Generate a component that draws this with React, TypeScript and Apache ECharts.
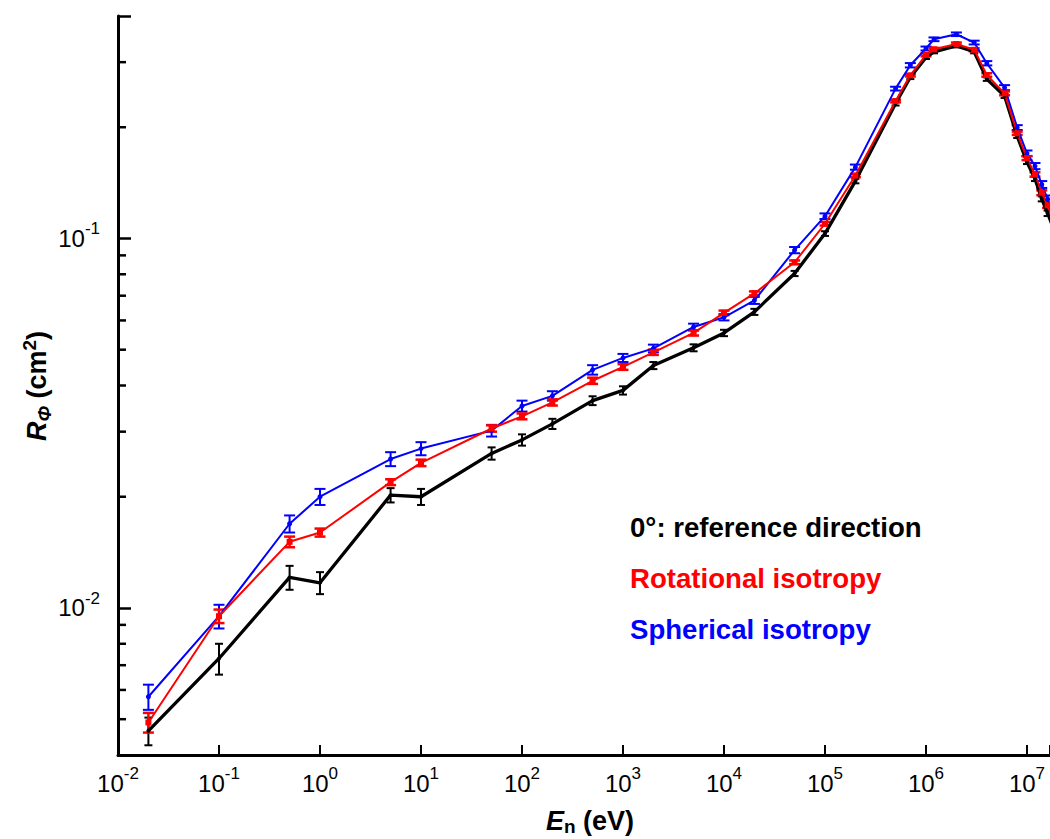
import React, { useEffect, useRef } from "react";
import * as echarts from "echarts";

// Neutron energies (eV)
const energies = [
  0.02, 0.1, 0.5, 1, 5, 10, 50, 100, 200, 500, 1000, 2000, 5000, 1e4, 2e4, 5e4,
  1e5, 2e5, 5e5, 7e5, 1e6, 1.2e6, 2e6, 3e6, 4e6, 6e6, 8e6, 1e7, 1.2e7, 1.4e7, 1.6e7, 2e7,
];

// 0°: reference direction
const refValues = [
  0.00465, 0.0073, 0.0121, 0.0117, 0.0202, 0.02, 0.0262, 0.0285, 0.0315, 0.0364, 0.0388, 0.0453, 0.0506, 0.0555, 0.0633, 0.0804,
  0.1031, 0.143, 0.232, 0.273, 0.309, 0.32, 0.332, 0.32, 0.27, 0.243, 0.189, 0.161, 0.145, 0.128, 0.117, 0.1,
];
const refErrors = [
  0.0004, 0.0007, 0.0009, 0.0008, 0.0009, 0.001, 0.001, 0.001, 0.001, 0.001, 0.001, 0.001, 0.0011, 0.0011, 0.0012, 0.0013,
  0.0015, 0.002, 0.003, 0.003, 0.003, 0.003, 0.003, 0.003, 0.003, 0.003, 0.002, 0.002, 0.002, 0.002, 0.002, 0.002,
];

// Rotational isotropy
const rotValues = [
  0.0049, 0.0095, 0.0151, 0.016, 0.0219, 0.0247, 0.0306, 0.033, 0.036, 0.0412, 0.0449, 0.0492, 0.0555, 0.0629, 0.071, 0.0862,
  0.1096, 0.148, 0.2355, 0.2764, 0.314, 0.325, 0.336, 0.324, 0.277, 0.247, 0.1926, 0.165, 0.149, 0.133, 0.123, 0.105,
];
const rotErrors = [
  0.0003, 0.0004, 0.0005, 0.0004, 0.0004, 0.0005, 0.0006, 0.0006, 0.0007, 0.0008, 0.0008, 0.0008, 0.0009, 0.0009, 0.0009, 0.001,
  0.0012, 0.0015, 0.002, 0.002, 0.003, 0.003, 0.003, 0.003, 0.003, 0.003, 0.002, 0.002, 0.002, 0.002, 0.002, 0.002,
];

// Spherical isotropy
const sphValues = [
  0.00575, 0.0095, 0.0169, 0.02, 0.0253, 0.027, 0.0302, 0.0352, 0.0375, 0.0441, 0.0475, 0.0504, 0.0576, 0.0612, 0.068, 0.093,
  0.1149, 0.156, 0.2544, 0.2943, 0.3267, 0.346, 0.357, 0.339, 0.298, 0.256, 0.1996, 0.17, 0.157, 0.14, 0.1277, 0.11,
];
const sphErrors = [
  0.00045, 0.0007, 0.0009, 0.001, 0.0011, 0.0011, 0.0011, 0.0012, 0.0011, 0.0013, 0.0012, 0.0012, 0.0012, 0.0012, 0.0015, 0.0018,
  0.002, 0.0025, 0.003, 0.004, 0.004, 0.004, 0.004, 0.004, 0.004, 0.004, 0.003, 0.003, 0.003, 0.003, 0.003, 0.003,
];

// Axis ranges and minor tick values on the y axis
const xMin = 0.01;
const xMax = 1.69e7;
const yMin = 0.004;
const yMax = 0.4;
const yMinorTicks = [0.005, 0.006, 0.007, 0.008, 0.009, 0.02, 0.03, 0.04, 0.05, 0.06, 0.07, 0.08, 0.09, 0.2, 0.3];

const legendTexts = ["0°: reference direction", "Rotational isotropy", "Spherical isotropy"];

const FONT = "'Liberation Sans', Arial, Helvetica, sans-serif";
const BLACK = "#000000";
const RED = "#ff0000";
const BLUE = "#0000ff";

function powLabel(v: number): string {
  const l = Math.log10(v);
  const r = Math.round(l);
  if (Math.abs(l - r) > 1e-6) return "";
  return "{b|10}{s|" + r + "}";
}

const labelRich = {
  b: { fontSize: 24, fontFamily: FONT, color: "#000", lineHeight: 36, verticalAlign: "middle" },
  s: { fontSize: 17, fontFamily: FONT, color: "#000", lineHeight: 17, verticalAlign: "top" },
};

function errData(vals: number[], errs: number[]) {
  return energies.map((e, i) => [e, vals[i] - errs[i], vals[i] + errs[i]]);
}

function errSeries(name: string, vals: number[], errs: number[], color: string, capW: number, lw: number) {
  return {
    name: name + "-err",
    type: "custom",
    clip: true,
    silent: true,
    data: errData(vals, errs),
    encode: { x: 0, y: [1, 2] },
    renderItem: (params: any, api: any) => {
      const x = api.value(0);
      const lo = api.value(1);
      const hi = api.value(2);
      const p1 = api.coord([x, lo]);
      const p2 = api.coord([x, hi]);
      const w = capW / 2;
      const style = { stroke: color, lineWidth: lw };
      return {
        type: "group",
        children: [
          { type: "line", shape: { x1: p1[0], y1: p1[1], x2: p2[0], y2: p2[1] }, style },
          { type: "line", shape: { x1: p1[0] - w, y1: p1[1], x2: p1[0] + w, y2: p1[1] }, style },
          { type: "line", shape: { x1: p2[0] - w, y1: p2[1], x2: p2[0] + w, y2: p2[1] }, style },
        ],
      };
    },
  };
}

function lineSeries(name: string, vals: number[], color: string, width: number, symbol: string, size: number) {
  return {
    name,
    type: "line",
    data: energies.map((e, i) => [e, vals[i]]),
    symbol,
    symbolSize: size,
    showSymbol: true,
    clip: true,
    lineStyle: { color, width },
    itemStyle: { color },
    silent: true,
  };
}

export default function App() {
  const ref = useRef<HTMLDivElement>(null);

  useEffect(() => {
    if (!ref.current) return;
    const chart = echarts.init(ref.current, null, { renderer: "svg" });

    const legendStyle = (text: string, fill: string) => ({
      text,
      fill,
      font: "bold 27.6px " + FONT,
      textAlign: "left",
      textVerticalAlign: "middle",
      align: "left",
      verticalAlign: "middle",
    });

    const option: any = {
      animation: false,
      backgroundColor: "#ffffff",
      textStyle: { fontFamily: FONT },
      grid: { left: 118, right: 0, top: 16, bottom: 84, containLabel: false, outerBoundsMode: "none" },
      xAxis: {
        type: "log",
        logBase: 10,
        min: xMin,
        max: xMax,
        axisLine: { show: true, onZero: false, lineStyle: { color: BLACK, width: 3 } },
        axisTick: { show: true, inside: true, length: 10, lineStyle: { color: BLACK, width: 2 } },
        axisLabel: {
          show: true,
          margin: 10,
          formatter: (v: number) => powLabel(v),
          rich: labelRich,
          showMinLabel: true,
          showMaxLabel: true,
        },
        splitLine: { show: false },
        minorTick: { show: false },
      },
      yAxis: {
        type: "log",
        logBase: 10,
        min: yMin,
        max: yMax,
        axisLine: { show: true, onZero: false, lineStyle: { color: BLACK, width: 3 } },
        axisTick: { show: true, inside: true, length: 13, lineStyle: { color: BLACK, width: 2.5 } },
        axisLabel: {
          show: true,
          margin: 18,
          formatter: (v: number) => powLabel(v),
          rich: labelRich,
        },
        splitLine: { show: false },
        minorTick: { show: false },
      },
      series: [
        {
          name: "minorTicks",
          type: "custom",
          silent: true,
          clip: false,
          data: yMinorTicks.map((v) => [xMin, v]),
          encode: { x: 0, y: 1 },
          renderItem: (params: any, api: any) => {
            const p = api.coord([api.value(0), api.value(1)]);
            return {
              type: "line",
              shape: { x1: p[0], y1: p[1], x2: p[0] + 8, y2: p[1] },
              style: { stroke: BLACK, lineWidth: 2.5 },
            };
          },
        },
        errSeries("ref", refValues, refErrors, BLACK, 8, 2),
        lineSeries(legendTexts[0], refValues, BLACK, 3.3, "circle", 4),
        errSeries("sph", sphValues, sphErrors, BLUE, 11, 2),
        lineSeries(legendTexts[2], sphValues, BLUE, 2, "circle", 5),
        errSeries("rot", rotValues, rotErrors, RED, 11, 2.5),
        lineSeries(legendTexts[1], rotValues, RED, 2, "rect", 6),
      ],
      graphic: [
        { type: "text", x: 630, y: 527, silent: true, style: legendStyle(legendTexts[0], BLACK) },
        { type: "text", x: 630, y: 578, silent: true, style: legendStyle(legendTexts[1], RED) },
        { type: "text", x: 630, y: 629, silent: true, style: legendStyle(legendTexts[2], BLUE) },
        {
          type: "text",
          x: 590,
          y: 821,
          silent: true,
          style: {
            text: "{i|E}{sub|n}{b| (eV)}",
            textAlign: "center",
            textVerticalAlign: "middle",
            align: "center",
            verticalAlign: "middle",
            rich: {
              i: { fontSize: 27, fontWeight: "bold", fontStyle: "italic", fontFamily: FONT, fill: BLACK, lineHeight: 30, verticalAlign: "middle" },
              sub: { fontSize: 19, fontWeight: "bold", fontFamily: FONT, fill: BLACK, lineHeight: 19, verticalAlign: "bottom" },
              b: { fontSize: 27, fontWeight: "bold", fontFamily: FONT, fill: BLACK, lineHeight: 30, verticalAlign: "middle" },
            },
          },
        },
        {
          type: "text",
          x: 37,
          y: 386,
          rotation: Math.PI / 2,
          silent: true,
          style: {
            text: "{i|R}{sub|Φ}{b| (cm}{sup|2}{b|)}",
            textAlign: "center",
            textVerticalAlign: "middle",
            align: "center",
            verticalAlign: "middle",
            rich: {
              i: { fontSize: 27, fontWeight: "bold", fontStyle: "italic", fontFamily: FONT, fill: BLACK, lineHeight: 34, verticalAlign: "middle" },
              sub: { fontSize: 19, fontWeight: "bold", fontStyle: "italic", fontFamily: FONT, fill: BLACK, lineHeight: 19, verticalAlign: "bottom" },
              sup: { fontSize: 19, fontWeight: "bold", fontFamily: FONT, fill: BLACK, lineHeight: 19, verticalAlign: "top" },
              b: { fontSize: 27, fontWeight: "bold", fontFamily: FONT, fill: BLACK, lineHeight: 34, verticalAlign: "middle" },
            },
          },
        },
      ],
    };

    chart.setOption(option);
    return () => {
      chart.dispose();
    };
  }, []);

  return (
    <div
      ref={ref}
      style={{ position: "absolute", left: 0, top: 0, width: 1050, height: 839, background: "#fff" }}
    />
  );
}
